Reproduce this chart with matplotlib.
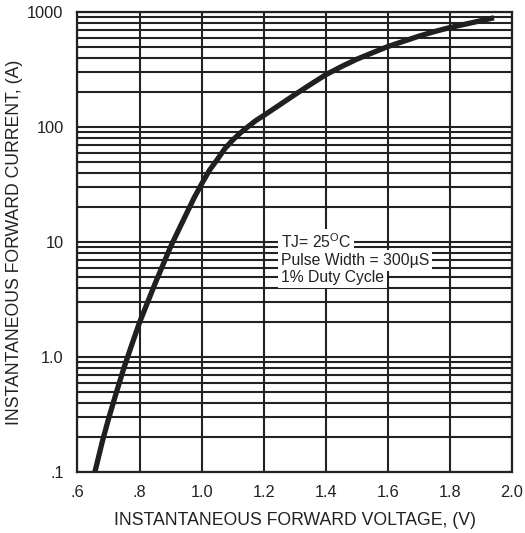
import matplotlib
matplotlib.use('Agg')
import matplotlib.pyplot as plt
from matplotlib.ticker import FixedLocator, NullFormatter, LogLocator
import numpy as np

plt.rcParams['font.family'] = ['Liberation Sans', 'DejaVu Sans']

# forward voltage (V) vs forward current (A)
voltage = [0.656, 0.68, 0.70, 0.725, 0.75, 0.775, 0.80, 0.825, 0.85, 0.875,
           0.90, 0.925, 0.95, 0.975, 1.0, 1.025, 1.05, 1.075, 1.1, 1.125,
           1.15, 1.175, 1.2, 1.25, 1.3, 1.35, 1.4, 1.45, 1.5, 1.55,
           1.6, 1.65, 1.7, 1.75, 1.8, 1.85, 1.9, 1.942]
current = [0.1, 0.184, 0.29, 0.49, 0.81, 1.28, 2.0, 2.95, 4.35, 6.3,
           9.1, 12.6, 17.4, 24, 32, 42, 52, 65, 77, 89,
           101, 114, 126, 155, 191, 234, 285, 335, 389, 442,
           501, 556, 617, 676, 733, 785, 841, 891]

x_ticks = [0.6, 0.8, 1.0, 1.2, 1.4, 1.6, 1.8, 2.0]
x_labels = ['.6', '.8', '1.0', '1.2', '1.4', '1.6', '1.8', '2.0']
y_ticks = [0.1, 1.0, 10, 100, 1000]
y_labels = ['.1', '1.0', '10', '100', '1000']

note_lines = ['TJ= 25$^\\mathregular{O}$C', 'Pulse Width = 300\u00b5S', '1% Duty Cycle']

fig = plt.figure(figsize=(5.25, 5.33), dpi=100)
ax = fig.add_axes([0.1476, 0.1144, 0.8276, 0.863])

ax.set_yscale('log')
ax.set_xlim(0.6, 2.0)
ax.set_ylim(0.1, 1000)

ax.xaxis.set_major_locator(FixedLocator(x_ticks))
ax.set_xticklabels(x_labels)
ax.yaxis.set_major_locator(FixedLocator(y_ticks))
ax.set_yticklabels(y_labels)
ax.yaxis.set_minor_locator(LogLocator(base=10, subs=np.arange(2, 10)))
ax.yaxis.set_minor_formatter(NullFormatter())

ax.tick_params(which='both', length=0, labelsize=11.8, colors='#222222')
ax.tick_params(axis='x', pad=9)
ax.tick_params(axis='y', pad=10)

ax.grid(True, which='major', axis='x', color='#222222', lw=1.5)
ax.grid(True, which='both', axis='y', color='#222222', lw=1.5)
ax.set_axisbelow(True)

for s in ax.spines.values():
    s.set_linewidth(1.6)
    s.set_color('#222222')

ax.plot(voltage, current, color='#231f20', lw=3.8, solid_capstyle='butt', zorder=3)

# note block, each line with its own white background
note_y = [8.9, 6.35, 4.52]
for txt, yy in zip(note_lines, note_y):
    ax.text(1.255, yy, txt, fontsize=11.3, color='#222222', va='baseline', ha='left',
            bbox=dict(facecolor='white', edgecolor='none', pad=2.0), zorder=4)

ax.set_xlabel('INSTANTANEOUS FORWARD VOLTAGE, (V)', fontsize=12.7, color='#222222', labelpad=9)
ax.set_ylabel('INSTANTANEOUS FORWARD CURRENT, (A)', fontsize=12.7, color='#222222', labelpad=3)

fig.savefig('out.png', dpi=100)
